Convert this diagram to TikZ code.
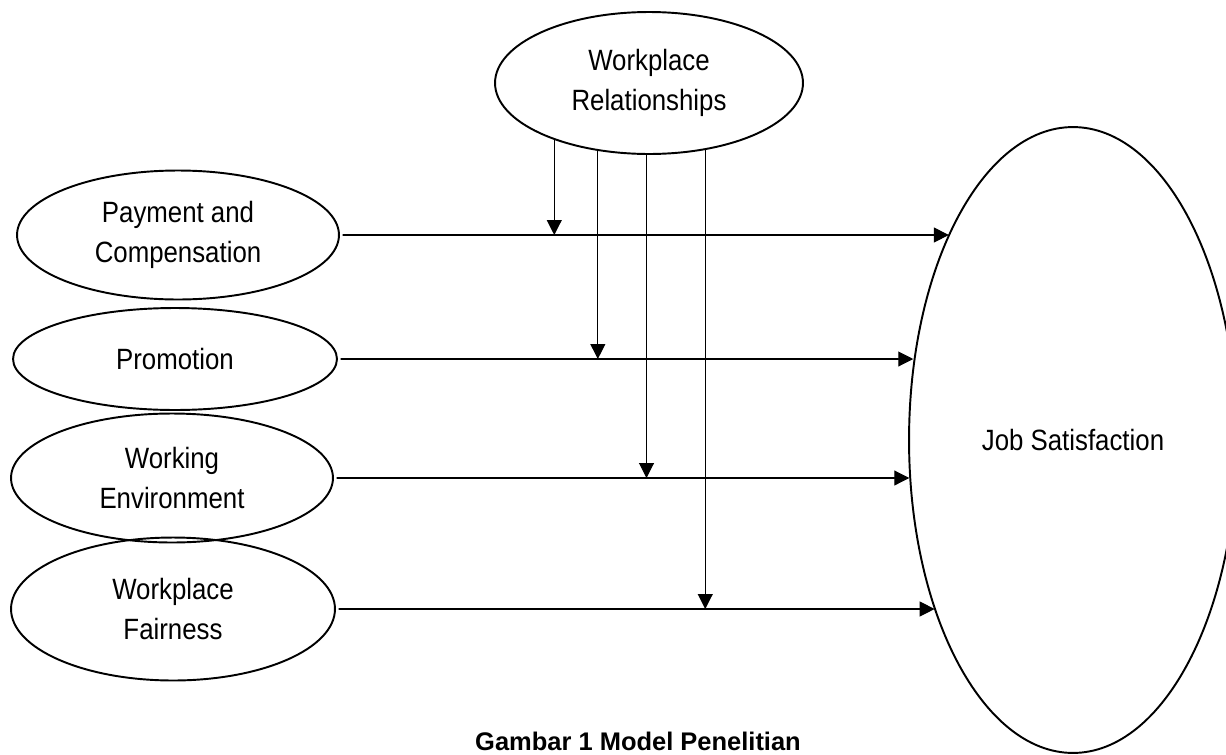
\documentclass[tikz,border=0pt]{standalone}
\usepackage{fontspec}
\setmainfont{Liberation Sans}[FakeStretch=0.88]
\newfontfamily\capfont{Liberation Sans}
\usetikzlibrary{arrows.meta,shapes.geometric}
\begin{document}
\begin{tikzpicture}[line cap=round,line join=round,x=0.02cm,y=-0.02cm,
  var/.style={draw,ellipse,line width=1.1pt,inner sep=0pt,align=center,font=\fontsize{16.7}{22.8}\selectfont},
  link/.style={-{Triangle[length=0.3cm,width=0.3cm]},line width=0.6pt}]
\useasboundingbox (0,0) rectangle (1226,754);
\node[var,minimum width=6.16cm,minimum height=2.84cm] (wr) at (649,83) {Workplace\\Relationships};
\node[var,minimum width=6.44cm,minimum height=2.58cm] (pay) at (178,235) {Payment and\\Compensation};
\node[var,minimum width=6.48cm,minimum height=2.04cm] (pro) at (175,359) {Promotion};
\node[var,minimum width=6.44cm,minimum height=2.58cm] (wenv) at (172,478) {Working\\Environment};
\node[var,minimum width=6.48cm,minimum height=2.86cm] (fair) at (173,609) {Workplace\\Fairness};
\node[var,minimum width=6.56cm,minimum height=12.52cm] (js) at (1073,440) {Job Satisfaction};
\draw[link,shorten <=0.06cm] (pay.east) -- (js.121 |- pay.east);
\draw[link,shorten <=0.06cm] (pro.east) -- (js.154 |- pro.east);
\draw[link,shorten <=0.06cm] (wenv.east) -- (js.193 |- wenv.east);
\draw[link,shorten <=0.06cm] (fair.east) -- (js.231 |- fair.east);
\draw[link] (wr.211) -- (wr.211 |- pay.east);
\draw[link] (wr.233) -- (wr.233 |- pro.east);
\draw[link] (wr.268) -- (wr.268 |- wenv.east);
\draw[link] (wr.310) -- (wr.310 |- fair.east);
\node[font=\capfont\bfseries\fontsize{14.5}{17}\selectfont,anchor=base] (cap) at (638,750) {Gambar 1 Model Penelitian};
\end{tikzpicture}
\end{document}
